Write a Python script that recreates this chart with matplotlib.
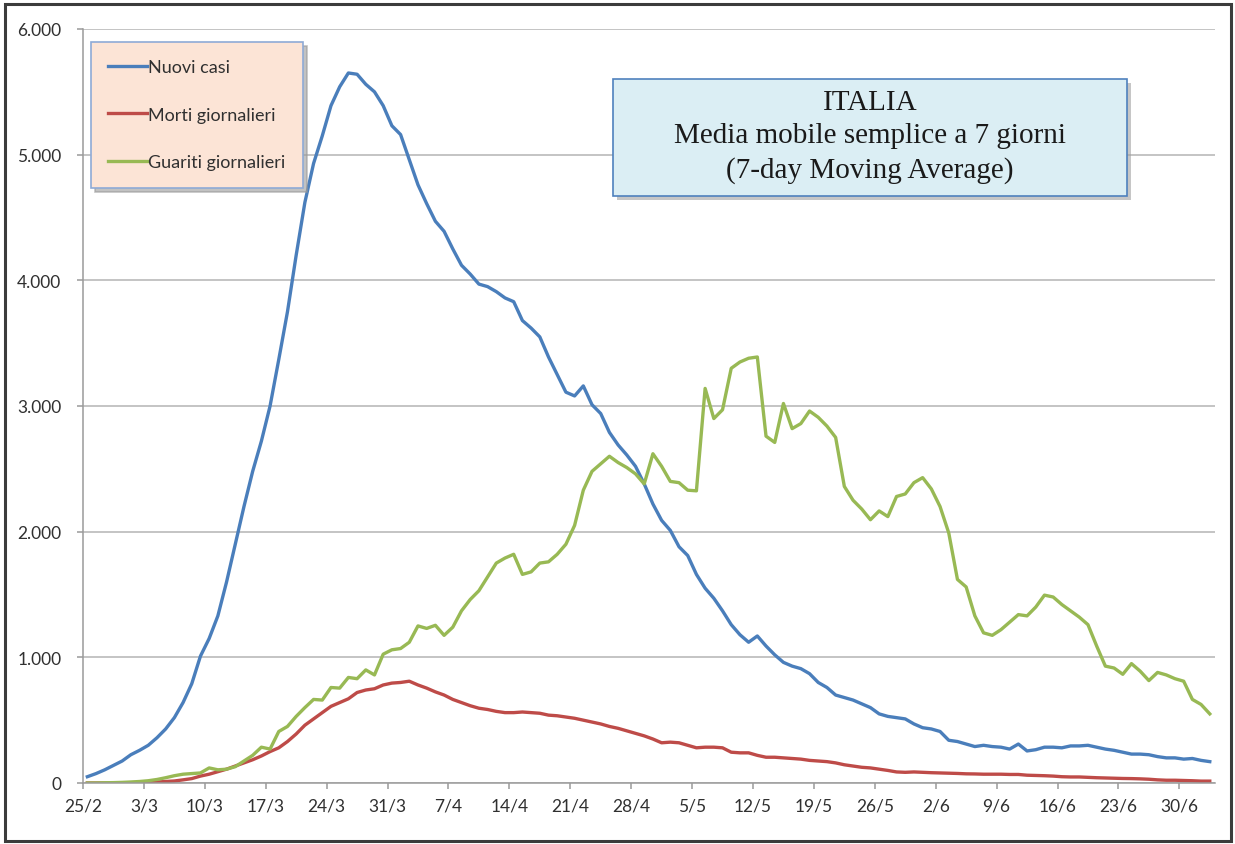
import numpy as np
import pandas as pd
import matplotlib
matplotlib.use("Agg")
import matplotlib.pyplot as plt
import matplotlib.dates as mdates
from matplotlib.patches import Rectangle
from matplotlib.ticker import FuncFormatter

# daily 7-day moving averages, 25/2/2020 -> 3/7/2020
start_date = "2020-02-25"

nuovi_casi = [
    50, 75, 105, 140, 175, 225, 260, 300, 360, 430,
    520, 640, 790, 1010, 1150, 1330, 1600, 1900, 2200, 2480,
    2720, 3000, 3370, 3750, 4200, 4620, 4930, 5150, 5390, 5540,
    5650, 5640, 5560, 5500, 5390, 5230, 5160, 4960, 4760, 4610,
    4470, 4390, 4250, 4120, 4050, 3970, 3950, 3910, 3860, 3830,
    3680, 3620, 3550, 3390, 3250, 3110, 3080, 3160, 3010, 2940,
    2790, 2690, 2610, 2520, 2380, 2220, 2090, 2010, 1880, 1810,
    1660, 1550, 1470, 1370, 1260, 1180, 1120, 1170, 1090, 1020,
    960, 930, 910, 870, 800, 760, 700, 680, 660, 630,
    600, 550, 530, 520, 510, 470, 440, 430, 410, 340,
    330, 310, 290, 300, 290, 285, 270, 310, 255, 265,
    285, 285, 280, 295, 295, 300, 285, 270, 260, 245,
    230, 230, 225, 210, 200, 200, 190, 195, 180, 170,
]

morti = [
    0, 0, 0, 0, 2, 3, 4, 5, 8, 12,
    16, 25, 35, 55, 70, 90, 110, 135, 160, 185,
    215, 250, 280, 330, 390, 460, 510, 560, 610, 640,
    670, 720, 740, 750, 780, 795, 800, 810, 780, 755,
    725, 700, 665, 640, 615, 595, 585, 570, 560, 560,
    565, 560, 555, 540, 535, 525, 515, 500, 485, 470,
    450, 435, 415, 395, 375, 350, 320, 325, 320, 300,
    280, 285, 285, 280, 245, 240, 240, 220, 205, 205,
    200, 195, 190, 180, 175, 170, 160, 145, 135, 125,
    120, 110, 100, 88, 85, 88, 85, 82, 80, 78,
    76, 73, 72, 70, 70, 70, 68, 68, 62, 60,
    58, 55, 50, 48, 48, 45, 42, 40, 38, 36,
    35, 33, 30, 25, 22, 22, 20, 18, 15, 15,
]

guariti = [
    0, 0, 2, 3, 5, 8, 12, 18, 28, 42,
    58, 70, 75, 80, 120, 105, 110, 130, 175, 220,
    285, 270, 410, 450, 530, 600, 665, 660, 760, 755,
    840, 830, 900, 860, 1025, 1060, 1070, 1120, 1250, 1230,
    1255, 1175, 1240, 1370, 1460, 1530, 1640, 1750, 1790, 1820,
    1660, 1680, 1750, 1760, 1820, 1900, 2050, 2330, 2480, 2540,
    2600, 2550, 2510, 2460, 2380, 2620, 2520, 2400, 2390, 2330,
    2325, 3140, 2900, 2970, 3300, 3350, 3380, 3390, 2760, 2710,
    3020, 2820, 2860, 2960, 2910, 2840, 2750, 2360, 2250, 2180,
    2095, 2165, 2120, 2280, 2300, 2390, 2430, 2340, 2200, 1990,
    1620, 1560, 1330, 1195, 1175, 1220, 1280, 1340, 1330, 1400,
    1495, 1480, 1420, 1370, 1320, 1260, 1090, 930, 915, 865,
    950, 890, 815, 880, 860, 830, 810, 665, 625, 550,
]

series_labels = ["Nuovi casi", "Morti giornalieri", "Guariti giornalieri"]
series_colors = ["#4a7ebb", "#be4b48", "#98b954"]
title_lines = ["ITALIA", "Media mobile semplice a 7 giorni", "(7-day Moving Average)"]

dates = pd.date_range(start_date, periods=len(nuovi_casi), freq="D")
# Excel-style: each day's point sits in the middle of its day slot
x_pts = dates + pd.Timedelta(hours=12)

plt.rcParams["font.family"] = ["Lato", "DejaVu Sans"]

W, H = 1235, 845
fig = plt.figure(figsize=(W / 100, H / 100), dpi=100)
fig.patch.set_facecolor("white")

ax = fig.add_axes([83 / W, (H - 784) / H, 1132 / W, 754 / H])

for values, label, color in zip([nuovi_casi, morti, guariti], series_labels, series_colors):
    ax.plot(x_pts, values, color=color, lw=2.4, label=label, solid_joinstyle="round")

# axes look like an old Excel chart
ax.set_ylim(0, 6000)
ax.set_yticks(np.arange(0, 6001, 1000))
ax.yaxis.set_major_formatter(FuncFormatter(lambda v, p: f"{int(v):,}".replace(",", ".")))
x0 = mdates.date2num(dates[0])
ax.set_xlim(x0, x0 + 130.1)
ax.set_xticks(pd.date_range(start_date, "2020-06-30", freq="7D"))
ax.xaxis.set_major_formatter(FuncFormatter(lambda v, p: f"{mdates.num2date(v).day}/{mdates.num2date(v).month}"))

ax.grid(axis="y", color="#b4b4b4", lw=1.1)
ax.set_axisbelow(True)
for s in ["top", "right"]:
    ax.spines[s].set_visible(False)
for s in ["left", "bottom"]:
    ax.spines[s].set_color("#9a9a9a")
    ax.spines[s].set_linewidth(1.1)
ax.tick_params(axis="both", colors="#9a9a9a", labelcolor="#303030", labelsize=12.5, length=4.5, width=1.1)
ax.tick_params(axis="y", pad=11)
ax.tick_params(axis="x", pad=6)

# legend box
leg = ax.legend(loc="upper left", bbox_to_anchor=((91 - 83) / 1132, (784 - 43) / 754),
                frameon=True, fancybox=False, shadow={"ox": 3, "oy": -3, "color": "#9a9a9a", "alpha": 0.6},
                handlelength=2.15, handletextpad=0.08, labelspacing=1.75, borderpad=0.95,
                borderaxespad=0, fontsize=13)
leg.get_frame().set_facecolor("#fce4d6")
leg.get_frame().set_edgecolor("#8eaad6")
leg.get_frame().set_linewidth(1.2)
leg.get_frame().set_alpha(1)
for t in leg.get_texts():
    t.set_color("#303030")

# title box with shadow
bx, by, bw, bh = 613, 80, 514, 117
fig.patches.append(Rectangle(((bx + 4) / W, (H - by - bh - 4) / H), bw / W, bh / H,
                             transform=fig.transFigure, facecolor="#a0a0a0", alpha=0.6,
                             edgecolor="none", zorder=5))
fig.patches.append(Rectangle((bx / W, (H - by - bh) / H), bw / W, bh / H,
                             transform=fig.transFigure, facecolor="#dbeef4",
                             edgecolor="#4f81bd", lw=1.2, zorder=6))
fig.text((bx + bw / 2) / W, (H - 137) / H, "\n".join(title_lines), ha="center", va="center",
         family=["Liberation Serif", "DejaVu Serif"], fontsize=21, color="#1a1a1a",
         linespacing=1.38, zorder=7)

# outer frame
fig.patches.append(Rectangle((5 / W, 3 / H), (W - 9) / W, (H - 8) / H, transform=fig.transFigure,
                             facecolor="none", edgecolor="#3c3c3c", lw=2.2, zorder=10))

fig.savefig("out.png", dpi=100)
